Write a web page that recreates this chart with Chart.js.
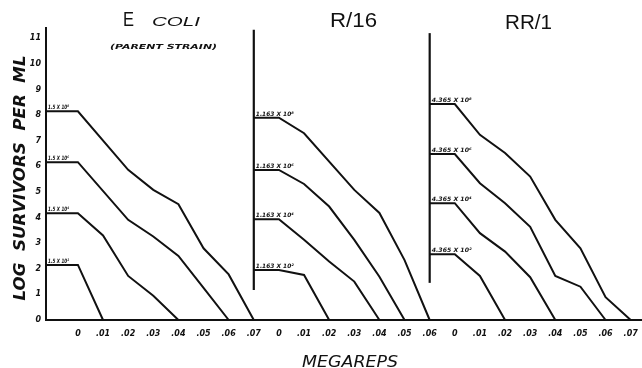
<!DOCTYPE html>
<html><head><meta charset="utf-8">
<script src="https://cdn.jsdelivr.net/npm/chart.js@4/dist/chart.umd.min.js"></script>
<style>html,body{margin:0;padding:0;background:#fff}#wrap{width:642px;height:368px}</style>
</head><body><div id="wrap"><canvas id="c" width="642" height="368"></canvas></div>
<script>
// ---- data ----
const tickLabels = ["0",".01",".02",".03",".04",".05",".06",".07",
                    "0",".01",".02",".03",".04",".05",".06",
                    "0",".01",".02",".03",".04",".05",".06",".07"];
const yTicks = [0,1,2,3,4,5,6,7,8,9,10,11];
const panelNames = ["E COLI", "R/16", "RR/1"];

// E. coli (parent strain): dose in megareps, log survivors per ml
const ecoliDose1 = [0, 0.02, 0.03, 0.04, 0.05, 0.06, 0.07];
const ecoliLog1  = [8.15, 5.86, 5.08, 4.52, 2.80, 1.78, 0];
const ecoliDose2 = [0, 0.02, 0.03, 0.04, 0.05, 0.06];
const ecoliLog2  = [6.16, 3.91, 3.26, 2.50, 1.25, 0];
const ecoliDose3 = [0, 0.01, 0.02, 0.03, 0.04];
const ecoliLog3  = [4.17, 3.30, 1.72, 0.95, 0];
const ecoliDose4 = [0, 0.01];
const ecoliLog4  = [2.15, 0];
const ecoliLabels = ["1.5 X 10\u2078", "1.5 X 10\u2076", "1.5 X 10\u2074", "1.5 X 10\u00B2"];

// R/16
const r16Dose1 = [0, 0.01, 0.03, 0.04, 0.05, 0.06];
const r16Log1  = [7.90, 7.29, 5.08, 4.18, 2.34, 0];
const r16Dose2 = [0, 0.01, 0.02, 0.03, 0.04, 0.05];
const r16Log2  = [5.86, 5.31, 4.43, 3.13, 1.69, 0];
const r16Dose3 = [0, 0.01, 0.02, 0.03, 0.04];
const r16Log3  = [3.93, 3.13, 2.28, 1.50, 0];
const r16Dose4 = [0, 0.01, 0.02];
const r16Log4  = [1.95, 1.76, 0];
const r16Labels = ["1.163 X 10\u2078", "1.163 X 10\u2076", "1.163 X 10\u2074", "1.163 X 10\u00B2"];

// RR/1
const rr1Dose1 = [0, 0.01, 0.02, 0.03, 0.04, 0.05, 0.06, 0.07];
const rr1Log1  = [8.43, 7.23, 6.52, 5.60, 3.91, 2.80, 0.89, 0];
const rr1Dose2 = [0, 0.01, 0.02, 0.03, 0.04, 0.05, 0.06];
const rr1Log2  = [6.48, 5.34, 4.56, 3.64, 1.72, 1.30, 0];
const rr1Dose3 = [0, 0.01, 0.02, 0.03, 0.04];
const rr1Log3  = [4.56, 3.39, 2.67, 1.67, 0];
const rr1Dose4 = [0, 0.01, 0.02];
const rr1Log4  = [2.57, 1.72, 0];
const rr1Labels = ["4.365 X 10\u2078", "4.365 X 10\u2076", "4.365 X 10\u2074", "4.365 X 10\u00B2"];

// panel separator axes (log range they span)
const sepFrom = [1.17, 1.45];
const sepTo   = [11.33, 11.2];

// ---- layout of the shared x axis (tick-index units) ----
const X_MIN = -1.27, X_MAX = 22.45;
const panelZero  = [0, 8, 15];       // index of dose 0 in each panel
const panelStart = [X_MIN, 7, 14];   // where each panel's plateau begins

const panels = [
  {doses:[ecoliDose1,ecoliDose2,ecoliDose3,ecoliDose4], logs:[ecoliLog1,ecoliLog2,ecoliLog3,ecoliLog4], labels:ecoliLabels},
  {doses:[r16Dose1,r16Dose2,r16Dose3,r16Dose4], logs:[r16Log1,r16Log2,r16Log3,r16Log4], labels:r16Labels},
  {doses:[rr1Dose1,rr1Dose2,rr1Dose3,rr1Dose4], logs:[rr1Log1,rr1Log2,rr1Log3,rr1Log4], labels:rr1Labels}
];

const datasets = [];
panels.forEach((p, pi) => {
  p.doses.forEach((d, ci) => {
    const pts = [{x: panelStart[pi], y: p.logs[ci][0]}];
    d.forEach((v, k) => pts.push({x: panelZero[pi] + v * 100, y: p.logs[ci][k]}));
    datasets.push({data: pts, borderColor:'#111', borderWidth:2, pointRadius:0, tension:0, fill:false, clip:false});
  });
});
[1,2].forEach((pi, k) => {
  datasets.push({data:[{x:panelStart[pi], y:sepFrom[k]}, {x:panelStart[pi], y:sepTo[k]}],
    borderColor:'#111', borderWidth:2.2, pointRadius:0, fill:false});
});

function fitText(ctx, text, x, y, font, width, align) {
  ctx.save();
  ctx.font = font;
  const w = ctx.measureText(text).width;
  const s = width / w;
  ctx.translate(x, y);
  ctx.scale(s, 1);
  ctx.textAlign = align || 'left';
  ctx.textBaseline = 'alphabetic';
  ctx.fillText(text, 0, 0);
  ctx.restore();
}

const textPlugin = {
  id: 'texts',
  afterDraw(chart) {
    const ctx = chart.ctx, xs = chart.scales.x, ys = chart.scales.y;
    ctx.fillStyle = '#111';
    // plateau labels
    const lw = [21, 38, 40];
    panels.forEach((p, pi) => {
      p.labels.forEach((t, ci) => {
        const px = xs.getPixelForValue(panelStart[pi]) + 2;
        const py = ys.getPixelForValue(p.logs[ci][0]) - 2;
        fitText(ctx, t, px, py, 'bold italic 6px "DejaVu Sans"', lw[pi], 'left');
      });
    });
    // panel titles
    fitText(ctx, 'E', 123, 26, '21px "Liberation Sans"', 11, 'left');
    fitText(ctx, 'COLI', 152, 26, 'italic 12px "Liberation Sans"', 48, 'left');
    fitText(ctx, '(PARENT STRAIN)', 110, 49, 'bold italic 7px "DejaVu Sans"', 107, 'left');
    fitText(ctx, 'R/16', 330, 27, '21px "Liberation Sans"', 47, 'left');
    fitText(ctx, 'RR/1', 505, 29, '21px "Liberation Sans"', 47, 'left');
    // axis titles
    ctx.save();
    ctx.translate(25, 178);
    ctx.rotate(-Math.PI / 2);
    fitText(ctx, 'LOG  SURVIVORS  PER  ML', 0, 0, 'bold italic 16px "DejaVu Sans"', 245, 'center');
    ctx.restore();
    fitText(ctx, 'MEGAREPS', 350, 367, 'italic 15px "DejaVu Sans"', 96, 'center');
  }
};

new Chart(document.getElementById('c'), {
  type: 'line',
  data: { datasets },
  options: {
    responsive: false, animation: false, devicePixelRatio: 1,
    layout: { padding: { top: 28, right: 0, left: 0, bottom: 0 } },
    plugins: { legend: {display:false}, tooltip: {enabled:false} },
    scales: {
      x: {
        type: 'linear', min: X_MIN, max: X_MAX,
        afterBuildTicks: s => { s.ticks = tickLabels.map((_, i) => ({value: i})); },
        afterFit: s => { s.height = 48; s.paddingLeft = 0; s.paddingRight = 0; },
        grid: { display: false, drawTicks: false },
        border: { display: true, color: '#111', width: 2 },
        ticks: { color:'#111', padding: 9, maxRotation: 0, autoSkip: false,
          font: { family: 'DejaVu Sans', size: 8, weight: 'bold', style: 'italic' },
          callback: v => tickLabels[Math.round(v)] }
      },
      y: {
        type: 'linear', min: 0, max: 11.4,
        afterBuildTicks: s => { s.ticks = yTicks.map(v => ({value: v})); },
        afterFit: s => { s.width = 46; s.paddingTop = 0; s.paddingBottom = 0; },
        grid: { display: false, drawTicks: false },
        border: { display: true, color: '#111', width: 2 },
        ticks: { color:'#111', padding: 5,
          font: { family: 'DejaVu Sans', size: 8, weight: 'bold', style: 'italic' },
          callback: v => String(v) }
      }
    }
  },
  plugins: [textPlugin]
});
</script>
</body></html>
